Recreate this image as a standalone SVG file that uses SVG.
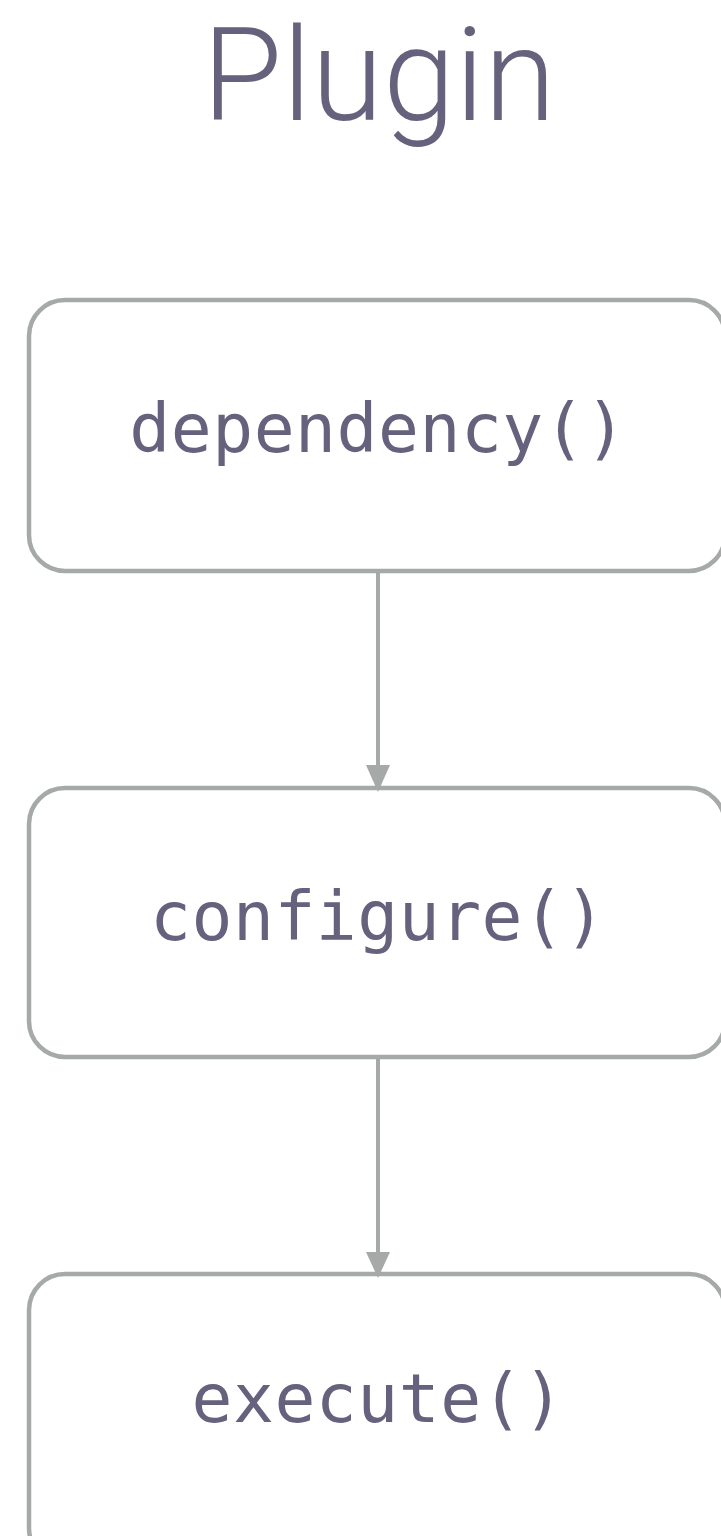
<svg xmlns="http://www.w3.org/2000/svg" width="721" height="1536" viewBox="0 0 721 1536">
  <style>
    .box { fill: #ffffff; stroke: #a5a9a8; stroke-width: 4.5; }
    .label { font-family: "DejaVu Sans Mono", "Liberation Mono", monospace; font-size: 68px; letter-spacing: 0.5px; fill: #66627e; text-anchor: middle; }
    .title { font-family: Roboto, "Liberation Sans", sans-serif; font-weight: 300; font-size: 130px; fill: #66627e; text-anchor: middle; }
    .edge { stroke: #a5a9a8; stroke-width: 4; fill: none; }
    .head { fill: #a5a9a8; }
  </style>
  <rect width="721" height="1536" fill="#ffffff"/>

  <text id="title" class="title" x="379" y="120">Plugin</text>

  <g id="connectors">
    <line class="edge" x1="378" y1="572" x2="378" y2="765"/>
    <line class="edge" x1="378" y1="1057" x2="378" y2="1252"/>
  </g>

  <g id="node-dependency">
    <rect class="box" x="29" y="300" width="696" height="271" rx="36"/>
    <text class="label" x="378" y="452">dependency()</text>
  </g>
  <g id="node-configure">
    <rect class="box" x="29" y="788" width="696" height="269" rx="36"/>
    <text class="label" x="378" y="940">configure()</text>
  </g>
  <g id="node-execute">
    <rect class="box" x="29" y="1274" width="696" height="290" rx="36"/>
    <text class="label" x="378" y="1422">execute()</text>
  </g>

  <!-- arrowheads drawn last so they sit over the box borders -->
  <g id="connector-heads">
    <path class="head" d="M366 765 L390 765 L378 792 Z"/>
    <path class="head" d="M366 1252 L390 1252 L378 1278 Z"/>
  </g>
</svg>
